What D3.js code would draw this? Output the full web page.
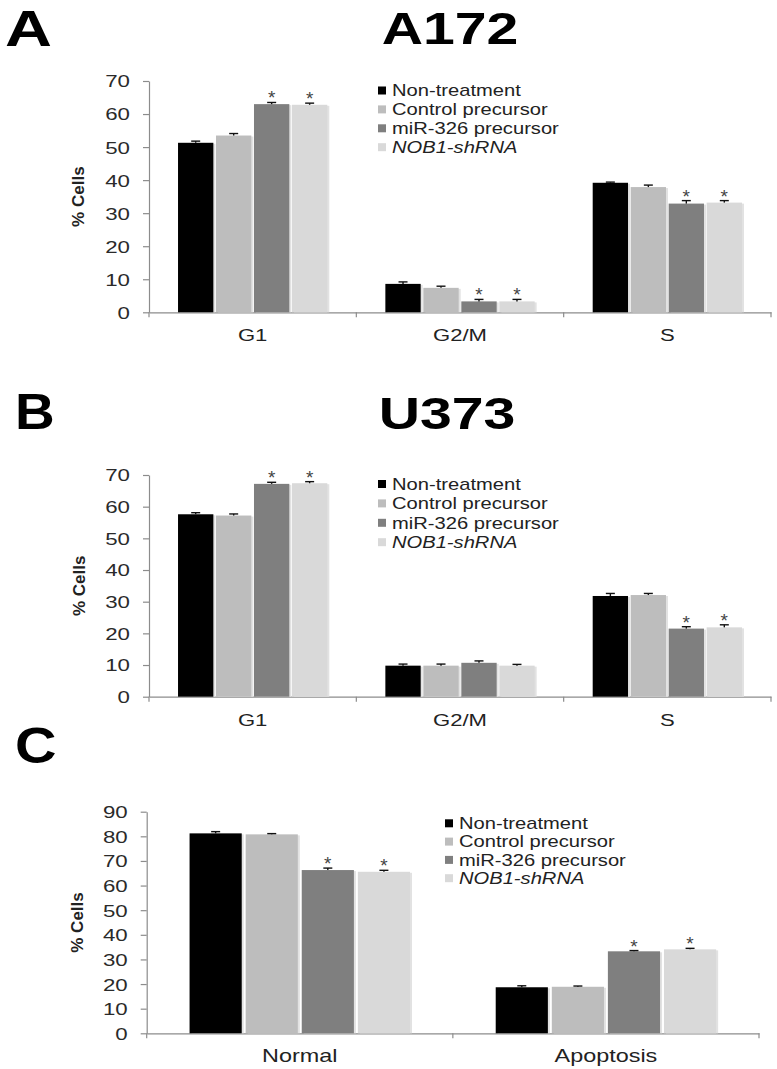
<!DOCTYPE html>
<html>
<head>
<meta charset="utf-8">
<script src="https://cdn.jsdelivr.net/npm/d3@7"></script>
<style>
  html, body { margin: 0; padding: 0; background: #fff; }
  svg { display: block; }
  text { font-family: "Liberation Sans", Arial, sans-serif; }
</style>
</head>
<body>
<svg id="chart" width="777" height="1069"></svg>
<script>
// ---------- data ----------
const seriesNames = ["Non-treatment", "Control precursor", "miR-326 precursor", "NOB1-shRNA"];
const seriesColors = ["#000000", "#bdbdbd", "#7f7f7f", "#d9d9d9"];

// Panel A (A172)
const categoriesA = ["G1", "G2/M", "S"];
const nonTreatA = [51.3, 8.6, 39.2];
const controlA  = [53.5, 7.4, 37.9];
const mirA      = [63.0, 3.3, 32.9];
const shA       = [62.8, 3.3, 33.2];
const nonTreatErrA = [0.5, 0.6, 0.2];
const controlErrA  = [0.6, 0.5, 0.6];
const mirErrA      = [0.5, 0.6, 0.9];
const shErrA       = [0.5, 0.6, 0.6];
const starsA = [[0,0,1,1],[0,0,1,1],[0,0,1,1]];
const ticksA = [0, 10, 20, 30, 40, 50, 60, 70];

// Panel B (U373)
const categoriesB = ["G1", "G2/M", "S"];
const nonTreatB = [57.6, 9.8, 31.8];
const controlB  = [57.2, 9.8, 32.1];
const mirB      = [67.2, 10.7, 21.5];
const shB       = [67.4, 9.8, 21.9];
const nonTreatErrB = [0.5, 0.5, 0.8];
const controlErrB  = [0.5, 0.5, 0.5];
const mirErrB      = [0.5, 0.6, 0.6];
const shErrB       = [0.5, 0.4, 0.8];
const starsB = [[0,0,1,1],[0,0,0,0],[0,0,1,1]];
const ticksB = [0, 10, 20, 30, 40, 50, 60, 70];

// Panel C
const categoriesC = ["Normal", "Apoptosis"];
const nonTreatC = [81.2, 18.7];
const controlC  = [80.8, 18.9];
const mirC      = [66.3, 33.3];
const shC       = [65.6, 34.1];
const nonTreatErrC = [0.7, 0.6];
const controlErrC  = [0.3, 0.3];
const mirErrC      = [0.8, 0.3];
const shErrC       = [0.6, 0.4];
const starsC = [[0,0,1,1],[0,0,1,1]];
const ticksC = [0, 10, 20, 30, 40, 50, 60, 70, 80, 90];

const yLabel = "% Cells";

// ---------- drawing ----------
const svg = d3.select("#chart");

function stext(g, x, y, str, o) {
  o = o || {};
  return g.append("text")
    .attr("transform", `translate(${x},${y}) scale(${o.sx || 1.3},1)`)
    .attr("text-anchor", o.anchor || "start")
    .attr("font-size", o.size || 16)
    .attr("font-weight", o.weight || "normal")
    .attr("font-style", o.style || "normal")
    .attr("fill", o.fill || "#222")
    .attr("dy", o.dy || 0)
    .text(str);
}

function panel(cfg) {
  const g = svg.append("g");
  const y = d3.scaleLinear().domain([0, cfg.max]).range([cfg.y0, cfg.yTop]);
  const x0 = d3.scaleBand().domain(cfg.categories).range([cfg.xL, cfg.xR])
    .paddingInner(0.28).paddingOuter(0.14);
  const x1 = d3.scaleBand().domain(seriesNames).range([0, x0.bandwidth()])
    .paddingInner(0.07).paddingOuter(0);

  // panel letter and title
  stext(g, cfg.letterX, cfg.letterBase, cfg.letter, {size: 50, weight: "bold", sx: cfg.letterSx, fill: "#000"});
  if (cfg.title) stext(g, cfg.titleX, cfg.titleBase, cfg.title, {size: 44, weight: "bold", sx: 1.3, anchor: "middle", fill: "#000"});

  // y axis
  const yAxis = d3.axisLeft(y).tickValues(cfg.ticks).tickSize(6).tickSizeOuter(0).tickFormat(d3.format("d"));
  const ya = g.append("g").attr("transform", `translate(${cfg.xL},0)`).call(yAxis);
  ya.select(".domain").attr("stroke", "#8c8c8c").attr("stroke-width", 1.2);
  ya.selectAll(".tick line").attr("stroke", "#8c8c8c").attr("stroke-width", 1.2);
  ya.selectAll(".tick text")
    .attr("x", 0).attr("dy", "0.36em")
    .attr("transform", "translate(-19,0) scale(1.35,1)")
    .attr("text-anchor", "end")
    .attr("font-size", 16.5)
    .attr("font-family", "Liberation Sans, Arial, sans-serif")
    .attr("fill", "#2a2a2a");

  // x axis (category labels)
  const xAxis = d3.axisBottom(x0).tickSize(0).tickSizeOuter(0);
  const xa = g.append("g").attr("transform", `translate(0,${cfg.y0})`).call(xAxis);
  xa.select(".domain").attr("stroke", "#8c8c8c").attr("stroke-width", 1.2);
  xa.selectAll(".tick text")
    .attr("y", 0).attr("dy", 0)
    .attr("transform", `translate(0,${cfg.labelBase - cfg.y0}) scale(1.3,1)`)
    .attr("font-size", cfg.catSize)
    .attr("font-family", "Liberation Sans, Arial, sans-serif")
    .attr("fill", "#222");
  // boundary ticks between categories
  const step = x0.step();
  const bounds = d3.range(cfg.categories.length + 1).map(i => cfg.xL + i * step);
  xa.selectAll("line.bound").data(bounds).enter().append("line")
    .attr("class", "bound")
    .attr("x1", d => d).attr("x2", d => d)
    .attr("y1", 0).attr("y2", 5)
    .attr("stroke", "#8c8c8c").attr("stroke-width", 1.2);

  // bars
  const rows = [];
  cfg.categories.forEach((c, ci) => {
    cfg.values.forEach((vals, si) => {
      rows.push({cat: c, ci, si, v: vals[ci], e: cfg.errs[si][ci], star: cfg.stars[ci][si]});
    });
  });
  const bw = x1.bandwidth();
  const bx = d => x0(d.cat) + x1(seriesNames[d.si]);

  // soft shadow
  g.selectAll("rect.shadow").data(rows).enter().append("rect")
    .attr("class", "shadow")
    .attr("x", d => bx(d) + 2)
    .attr("y", d => y(d.v) + 1)
    .attr("width", bw)
    .attr("height", d => cfg.y0 - y(d.v) - 1)
    .attr("fill", "#e2e2e2");
  g.selectAll("rect.bar").data(rows).enter().append("rect")
    .attr("class", "bar")
    .attr("x", d => bx(d))
    .attr("y", d => y(d.v))
    .attr("width", bw)
    .attr("height", d => cfg.y0 - y(d.v))
    .attr("fill", d => seriesColors[d.si]);

  // error bars (upper)
  const eg = g.append("g").attr("stroke", "#111").attr("stroke-width", 1.4);
  rows.forEach(d => {
    const cx = bx(d) + bw / 2;
    eg.append("line").attr("x1", cx).attr("x2", cx).attr("y1", y(d.v)).attr("y2", y(d.v + d.e));
    eg.append("line").attr("x1", cx - 4.5).attr("x2", cx + 4.5).attr("y1", y(d.v + d.e)).attr("y2", y(d.v + d.e));
  });

  // stars
  rows.filter(d => d.star).forEach(d => {
    const cx = bx(d) + bw / 2;
    g.append("text").attr("x", cx).attr("y", y(d.v + d.e) + 2)
      .attr("text-anchor", "middle").attr("font-size", 19)
      .attr("fill", "#444").text("*");
  });

  // y label
  g.append("text")
    .attr("transform", `translate(${cfg.yLabelX},${(cfg.y0 + cfg.yTop) / 2}) rotate(-90)`)
    .attr("text-anchor", "middle").attr("dy", "0.35em")
    .attr("font-size", 17).attr("font-weight", "bold").attr("fill", "#222")
    .text(yLabel);

  // legend
  const lg = g.append("g");
  seriesNames.forEach((s, i) => {
    const ly = cfg.legY + i * cfg.legStep;
    lg.append("rect").attr("x", cfg.legX).attr("y", ly - 4).attr("width", 8).attr("height", 8)
      .attr("fill", seriesColors[i]);
    stext(lg, cfg.legX + 14, ly, s, {size: 16, sx: 1.26, dy: "0.36em", style: i === 3 ? "italic" : "normal", fill: "#222"});
  });
}

panel({
  letter: "A", letterX: 5, letterSx: 1.3, letterBase: 46, title: "A172", titleX: 450, titleBase: 44,
  categories: categoriesA, values: [nonTreatA, controlA, mirA, shA],
  errs: [nonTreatErrA, controlErrA, mirErrA, shErrA], stars: starsA,
  ticks: ticksA, max: 70, y0: 312.3, yTop: 81, xL: 149, xR: 771,
  labelBase: 341, catSize: 17, yLabelX: 78,
  legX: 378, legY: 90.5, legStep: 18.9
});

panel({
  letter: "B", letterX: 15, letterSx: 1.1, letterBase: 429, title: "U373", titleX: 447, titleBase: 429,
  categories: categoriesB, values: [nonTreatB, controlB, mirB, shB],
  errs: [nonTreatErrB, controlErrB, mirErrB, shErrB], stars: starsB,
  ticks: ticksB, max: 70, y0: 696.7, yTop: 475, xL: 149, xR: 771,
  labelBase: 726, catSize: 17, yLabelX: 79,
  legX: 378, legY: 484, legStep: 19.4
});

panel({
  letter: "C", letterX: 15, letterSx: 1.15, letterBase: 763, title: null, titleBase: 763,
  categories: categoriesC, values: [nonTreatC, controlC, mirC, shC],
  errs: [nonTreatErrC, controlErrC, mirErrC, shErrC], stars: starsC,
  ticks: ticksC, max: 90, y0: 1033.3, yTop: 811.7, xL: 146.7, xR: 759,
  labelBase: 1062, catSize: 18, yLabelX: 77,
  legX: 445, legY: 823.3, legStep: 18.3
});
</script>
</body>
</html>
